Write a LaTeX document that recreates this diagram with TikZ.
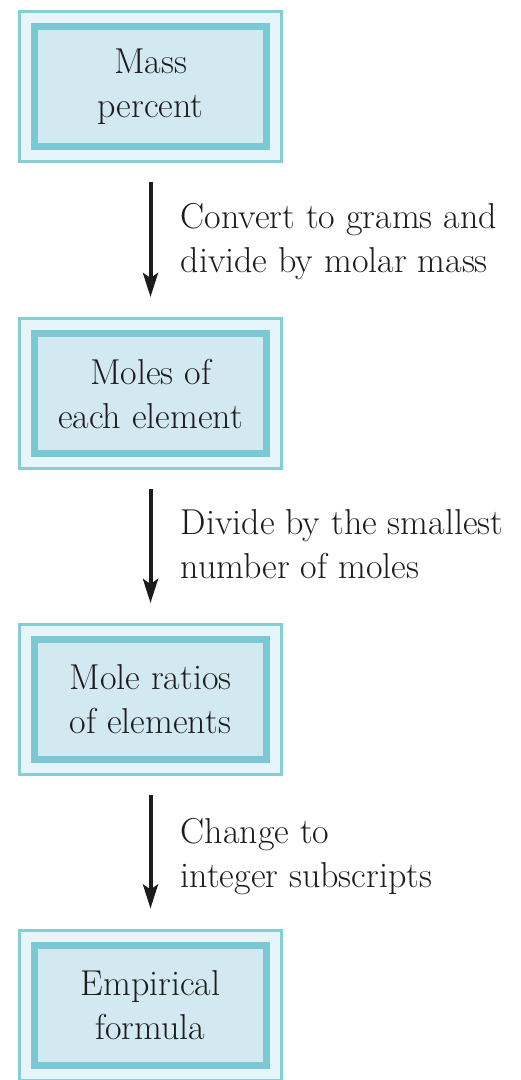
\documentclass[tikz,border=0pt]{standalone}
\usetikzlibrary{arrows.meta,positioning,calc}
\definecolor{flowEdge}{HTML}{86CDD5}
\definecolor{flowBand}{HTML}{E6F5FA}
\definecolor{flowRim}{HTML}{79C8D3}
\definecolor{flowFill}{HTML}{D3E9F2}
\definecolor{flowInk}{HTML}{1E1B1C}

\begin{document}
\begin{tikzpicture}[x=1pt,y=1pt,
  stage/.style={draw=flowEdge,line width=3pt,fill=flowBand,
    minimum width=262pt,minimum height=150pt,inner sep=0pt,
    align=center,text=flowInk,font=\fontsize{36}{44}\selectfont,
    path picture={\draw[flowRim,line width=7pt,fill=flowFill]
      ($(path picture bounding box.south west)+(15,15)$) rectangle
      ($(path picture bounding box.north east)+(-15,-15)$);}},
  flowarrow/.style={-{Stealth[length=24pt,width=15pt,inset=5pt]},
    line width=4pt,draw=flowInk,shorten <=19pt,shorten >=20pt},
  note/.style={anchor=west,inner sep=0pt,align=left,text=flowInk,
    font=\fontsize{36}{44}\selectfont}]
  \useasboundingbox (0,0) rectangle (520,-1080);
  % the four stages
  \node[stage] (mass)   at (150.5,-86.5)  {Mass\\percent};
  \node[stage] (moles)  at (150.5,-393.5) {Moles of\\each element};
  \node[stage] (ratios) at (150.5,-699.5) {Mole ratios\\of elements};
  \node[stage] (emp)    at (150.5,-1005)  {Empirical\\formula};
  % steps between them
  \coordinate (m1) at ($(mass.south)!.5!(moles.north)$);
  \coordinate (m2) at ($(moles.south)!.5!(ratios.north)$);
  \coordinate (m3) at ($(ratios.south)!.5!(emp.north)$);
  \draw[flowarrow] (mass) -- (moles);
  \draw[flowarrow] (moles) -- (ratios);
  \draw[flowarrow] (ratios) -- (emp);
  \node[note] (n1) at ($(m1)+(30,-2)$) {Convert to grams and\\divide by molar mass};
  \node[note] (n2) at ($(m2)+(30,2)$)  {Divide by the smallest\\number of moles};
  \node[note] (n3) at ($(m3)+(30,-4)$) {Change to\\integer subscripts};
\end{tikzpicture}
\end{document}
